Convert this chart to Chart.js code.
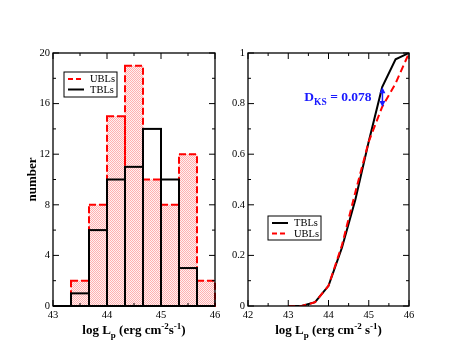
<!DOCTYPE html>
<html>
<head>
<script src="https://cdn.jsdelivr.net/npm/chart.js@4.4.0/dist/chart.umd.min.js"></script>
<style>
  body { margin: 0; background: #fff; }
  #wrap { position: relative; width: 463px; height: 360px; }
  #left { position: absolute; left: 0; top: 0; }
  #right { position: absolute; left: 231px; top: 0; }
</style>
</head>
<body>
<div id="wrap">
  <canvas id="left" width="231" height="360"></canvas>
  <canvas id="right" width="232" height="360"></canvas>
</div>
<script>
// histogram: bins of log Lp, width 1/3
var binStarts = [43, 43.3333, 43.6667, 44, 44.3333, 44.6667, 45, 45.3333, 45.6667];
var binWidth = 1 / 3;
var ublCounts = [0, 2, 8, 15, 19, 10, 8, 12, 2];
var tblCounts = [0, 1, 6, 10, 11, 14, 10, 3, 0];

// cumulative distributions
var cdfX = [43, 43.3333, 43.6667, 44, 44.3333, 44.6667, 45, 45.3333, 45.6667, 46];
var tblCdf = [0, 0, 0.015, 0.08, 0.23, 0.42, 0.65, 0.865, 0.975, 1];
var ublCdf = [0, 0, 0.015, 0.08, 0.24, 0.45, 0.65, 0.787, 0.88, 1];

// KS distance marker
var ksX = 45.34;
var ksTop = 0.865;
var ksBottom = 0.787;
var ksText = "0.078";

var SERIF = "'Liberation Serif', 'DejaVu Serif', serif";

function xy(xs, ys) {
  return xs.map(function (x, i) { return { x: x, y: ys[i] }; });
}
function histPoints(counts) {
  return binStarts.map(function (s, i) { return { x: s + binWidth / 2, y: counts[i] }; });
}

function makeHatch() {
  var c = document.createElement('canvas');
  c.width = 2; c.height = 2;
  var g = c.getContext('2d');
  g.fillStyle = '#fff0f0';
  g.fillRect(0, 0, 2, 2);
  g.fillStyle = '#ffb0b0';
  g.fillRect(0, 0, 1, 1);
  g.fillRect(1, 1, 1, 1);
  return g.createPattern(c, 'repeat');
}

// draw text with sub/superscripts, centred on cx
function richText(ctx, parts, cx, y, align) {
  var total = 0;
  parts.forEach(function (p) {
    ctx.font = 'bold ' + p.size + 'px ' + SERIF;
    p.w = ctx.measureText(p.t).width;
    total += p.w;
  });
  var x = align === 'left' ? cx : cx - total / 2;
  ctx.textBaseline = 'alphabetic';
  ctx.textAlign = 'left';
  parts.forEach(function (p) {
    ctx.font = 'bold ' + p.size + 'px ' + SERIF;
    ctx.fillText(p.t, x, y + (p.dy || 0));
    x += p.w;
  });
}

// frame, inward ticks on all sides, x title
var framePlugin = {
  id: 'frame',
  afterDraw: function (chart, args, opts) {
    var ctx = chart.ctx, a = chart.chartArea;
    var xs = chart.scales.x, ys = chart.scales.y;
    ctx.save();
    ctx.strokeStyle = '#000';
    ctx.lineWidth = 1.3;
    ctx.strokeRect(a.left, a.top, a.right - a.left, a.bottom - a.top);
    ctx.lineWidth = 1;
    var v, p, len, k;
    var nx = Math.round((xs.max - xs.min) / opts.xMinor);
    for (k = 0; k <= nx; k++) {
      v = xs.min + k * opts.xMinor;
      p = xs.getPixelForValue(v);
      len = (k % Math.round(opts.xMajor / opts.xMinor) === 0) ? 6 : 3;
      ctx.beginPath();
      ctx.moveTo(p, a.bottom); ctx.lineTo(p, a.bottom - len);
      ctx.moveTo(p, a.top); ctx.lineTo(p, a.top + len);
      ctx.stroke();
    }
    var ny = Math.round((ys.max - ys.min) / opts.yMinor);
    for (k = 0; k <= ny; k++) {
      v = ys.min + k * opts.yMinor;
      p = ys.getPixelForValue(v);
      len = (k % Math.round(opts.yMajor / opts.yMinor) === 0) ? 6 : 3;
      ctx.beginPath();
      ctx.moveTo(a.left, p); ctx.lineTo(a.left + len, p);
      ctx.moveTo(a.right, p); ctx.lineTo(a.right - len, p);
      ctx.stroke();
    }
    ctx.fillStyle = '#000';
    richText(ctx, opts.title, (a.left + a.right) / 2, a.bottom + 28);
    ctx.restore();
  }
};

// boxed legend inside the plot
var boxLegend = {
  id: 'boxLegend',
  afterDraw: function (chart, args, opts) {
    var ctx = chart.ctx, a = chart.chartArea;
    var x0 = a.left + opts.dx, y0 = a.top + opts.dy;
    ctx.save();
    ctx.fillStyle = '#fff';
    ctx.fillRect(x0, y0, opts.w, opts.h);
    ctx.strokeStyle = '#000';
    ctx.lineWidth = 1;
    ctx.strokeRect(x0, y0, opts.w, opts.h);
    opts.items.forEach(function (it, i) {
      var yy = y0 + 7 + i * 10.5;
      ctx.strokeStyle = it.color;
      ctx.lineWidth = 2;
      ctx.setLineDash(it.dash || []);
      ctx.beginPath();
      ctx.moveTo(x0 + 4, yy); ctx.lineTo(x0 + 20, yy);
      ctx.stroke();
      ctx.setLineDash([]);
      ctx.fillStyle = '#000';
      ctx.font = '10.5px ' + SERIF;
      ctx.textBaseline = 'middle';
      ctx.textAlign = 'left';
      ctx.fillText(it.label, x0 + 26, yy + 0.5);
    });
    ctx.restore();
  }
};

// per-bar rectangles for the histograms (dashed or solid)
var outlinePlugin = {
  id: 'outline',
  afterDatasetsDraw: function (chart) {
    var ctx = chart.ctx;
    chart.data.datasets.forEach(function (ds, i) {
      if (!ds.outline) return;
      var meta = chart.getDatasetMeta(i);
      ctx.save();
      ctx.strokeStyle = ds.outline.color;
      ctx.lineWidth = ds.outline.width;
      ctx.setLineDash(ds.outline.dash || []);
      meta.data.forEach(function (bar) {
        var p = bar.getProps(['x', 'y', 'base', 'width'], true);
        ctx.strokeRect(p.x - p.width / 2, p.y, p.width, p.base - p.y);
      });
      ctx.restore();
    });
  }
};

var ksPlugin = {
  id: 'ks',
  afterDraw: function (chart) {
    var ctx = chart.ctx, xs = chart.scales.x, ys = chart.scales.y;
    var px = xs.getPixelForValue(ksX);
    var t = ys.getPixelForValue(ksTop), b = ys.getPixelForValue(ksBottom);
    ctx.save();
    ctx.strokeStyle = '#1a1aff';
    ctx.fillStyle = '#1a1aff';
    ctx.lineWidth = 1.5;
    ctx.beginPath();
    ctx.moveTo(px, t + 3); ctx.lineTo(px, b - 3);
    ctx.stroke();
    ctx.beginPath();
    ctx.moveTo(px, t); ctx.lineTo(px - 3, t + 6); ctx.lineTo(px + 3, t + 6); ctx.closePath();
    ctx.moveTo(px, b); ctx.lineTo(px - 3, b - 6); ctx.lineTo(px + 3, b - 6); ctx.closePath();
    ctx.fill();
    richText(ctx, [
      { t: 'D', size: 13.5 },
      { t: 'KS', size: 9.5, dy: 4 },
      { t: ' = ' + ksText, size: 13.5 }
    ], xs.getPixelForValue(43.4), ys.getPixelForValue(0.81), 'left');
    ctx.restore();
  }
};

function tickFont() { return { family: SERIF, size: 10.5 }; }
function plainNum(v) { return String(Math.round(v * 10) / 10); }

var ublFill = makeHatch();

new Chart(document.getElementById('left'), {
  type: 'bar',
  data: {
    datasets: [
      {
        label: 'UBLs',
        data: histPoints(ublCounts),
        backgroundColor: ublFill,
        borderWidth: 0,
        outline: { color: '#ff0000', width: 2, dash: [7, 3] }
      },
      {
        label: 'TBLs',
        data: histPoints(tblCounts),
        backgroundColor: 'rgba(0,0,0,0)',
        borderWidth: 0,
        outline: { color: '#000', width: 2 }
      }
    ]
  },
  options: {
    responsive: false,
    animation: false,
    grouped: false,
    barPercentage: 1,
    categoryPercentage: 1,
    layout: { padding: { left: 0, right: 16, top: 53, bottom: 0 } },
    scales: {
      x: {
        type: 'linear', min: 43, max: 46, offset: false,
        grid: { display: false, drawTicks: false }, border: { display: false },
        ticks: { stepSize: 1, color: '#000', font: tickFont(), padding: 3, maxRotation: 0 },
        afterFit: function (s) { s.height = 54; }
      },
      y: {
        min: 0, max: 20,
        grid: { display: false, drawTicks: false }, border: { display: false },
        ticks: { stepSize: 4, color: '#000', font: tickFont(), padding: 3 },
        title: { display: true, text: 'number', color: '#000', padding: { top: 25, bottom: 0 },
                 font: { family: SERIF, size: 13, weight: 'bold' } },
        afterFit: function (s) { s.width = 53; }
      }
    },
    plugins: {
      legend: { display: false },
      tooltip: { enabled: false },
      frame: {
        xMajor: 1, xMinor: 0.5, yMajor: 4, yMinor: 2,
        title: [
          { t: 'log L', size: 13 }, { t: 'p', size: 9, dy: 4 },
          { t: ' (erg cm', size: 13 }, { t: '-2', size: 9, dy: -5 },
          { t: 's', size: 13 }, { t: '-1', size: 9, dy: -5 }, { t: ')', size: 13 }
        ]
      },
      boxLegend: {
        dx: 11, dy: 19, w: 53, h: 25,
        items: [
          { label: 'UBLs', color: '#ff0000', dash: [5, 3] },
          { label: 'TBLs', color: '#000' }
        ]
      }
    }
  },
  plugins: [outlinePlugin, framePlugin, boxLegend]
});

new Chart(document.getElementById('right'), {
  type: 'line',
  data: {
    datasets: [
      {
        label: 'TBLs',
        data: xy(cdfX, tblCdf),
        borderColor: '#000', borderWidth: 2,
        pointRadius: 0, tension: 0, fill: false, order: 1
      },
      {
        label: 'UBLs',
        data: xy(cdfX, ublCdf),
        borderColor: '#ff0000', borderWidth: 2, borderDash: [7, 4],
        pointRadius: 0, tension: 0, fill: false, order: 0
      }
    ]
  },
  options: {
    responsive: false,
    animation: false,
    layout: { padding: { left: 0, right: 232 - 178, top: 53, bottom: 0 } },
    scales: {
      x: {
        type: 'linear', min: 42, max: 46,
        grid: { display: false, drawTicks: false }, border: { display: false },
        ticks: { stepSize: 1, color: '#000', font: tickFont(), padding: 3, maxRotation: 0 },
        afterFit: function (s) { s.height = 54; }
      },
      y: {
        min: 0, max: 1,
        grid: { display: false, drawTicks: false }, border: { display: false },
        ticks: { stepSize: 0.2, color: '#000', font: tickFont(), padding: 3, callback: plainNum },
        afterFit: function (s) { s.width = 17; }
      }
    },
    plugins: {
      legend: { display: false },
      tooltip: { enabled: false },
      frame: {
        xMajor: 1, xMinor: 0.5, yMajor: 0.2, yMinor: 0.1,
        title: [
          { t: 'log L', size: 13 }, { t: 'p', size: 9, dy: 4 },
          { t: ' (erg cm', size: 13 }, { t: '-2', size: 9, dy: -5 },
          { t: ' s', size: 13 }, { t: '-1', size: 9, dy: -5 }, { t: ')', size: 13 }
        ]
      },
      boxLegend: {
        dx: 20, dy: 163, w: 53, h: 24,
        items: [
          { label: 'TBLs', color: '#000' },
          { label: 'UBLs', color: '#ff0000', dash: [5, 3] }
        ]
      }
    }
  },
  plugins: [framePlugin, boxLegend, ksPlugin]
});
</script>
</body>
</html>
